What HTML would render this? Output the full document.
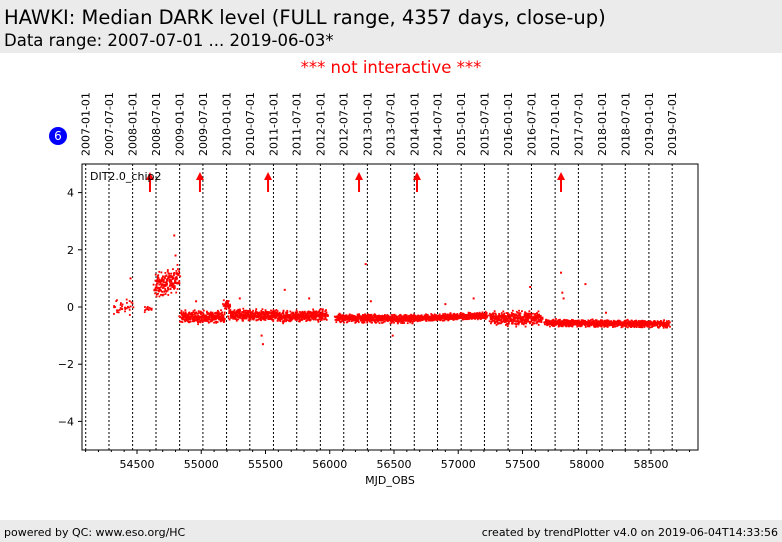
<!DOCTYPE html>
<html><head><meta charset="utf-8"><style>
body{margin:0;width:782px;height:542px;background:#fff;font-family:"DejaVu Sans","Liberation Sans",sans-serif;position:relative;overflow:hidden}
.hdr{position:absolute;left:0;top:0;width:782px;height:53px;background:#ebebeb}
.ftr{position:absolute;left:0;top:520px;width:782px;height:22px;background:#ebebeb;font-size:11px}
</style></head><body>
<div class="hdr">
<div style="position:absolute;left:4px;top:6px;font-size:19.5px">HAWKI: Median DARK level (FULL range, 4357 days, close-up)</div>
<div style="position:absolute;left:4px;top:31px;font-size:16.5px">Data range: 2007-07-01 ... 2019-06-03*</div>
</div>
<div style="position:absolute;left:0;width:782px;top:58px;text-align:center;color:#f00;font-size:16.5px">*** not interactive ***</div>
<svg id="chart" width="782" height="542" style="position:absolute;left:0;top:0" font-family="DejaVu Sans, Liberation Sans, sans-serif"></svg>
<div class="ftr">
<span style="position:absolute;left:4px;top:6px">powered by QC: www.eso.org/HC</span>
<span style="position:absolute;right:4px;top:6px">created by trendPlotter v4.0 on 2019-06-04T14:33:56</span>
</div>
<script>
const dateLabels=["2007-01-01","2007-07-01","2008-01-01","2008-07-01","2009-01-01","2009-07-01","2010-01-01","2010-07-01","2011-01-01","2011-07-01","2012-01-01","2012-07-01","2013-01-01","2013-07-01","2014-01-01","2014-07-01","2015-01-01","2015-07-01","2016-01-01","2016-07-01","2017-01-01","2017-07-01","2018-01-01","2018-07-01","2019-01-01","2019-07-01"];
const dateMjd=[54101,54282,54466,54648,54832,55013,55197,55378,55562,55743,55927,56109,56293,56474,56658,56839,57023,57204,57388,57570,57754,57935,58119,58300,58484,58665];
const xTicks=[54500,55000,55500,56000,56500,57000,57500,58000,58500];
const yTicks=[-4,-2,0,2,4];
const eventMjd=[54601,54990,55520,56228,56679,57800];
// segments: start, end, median level at start, median at end, spread
const segStart=[54320,54560,54640,54840,55180,55220,55600,56050,56650,57250,57680];
const segEnd=[54470,54620,54830,55180,55220,55600,55980,56650,57220,57650,58640];
const segLevelA=[0.0,-0.05,0.7,-0.35,0.05,-0.28,-0.35,-0.38,-0.4,-0.4,-0.55];
const segLevelB=[0.0,-0.05,1.0,-0.35,0.05,-0.3,-0.28,-0.42,-0.3,-0.4,-0.6];
const segSpread=[0.3,0.12,0.45,0.22,0.2,0.2,0.2,0.15,0.12,0.25,0.12];
const outX=[54790,54800,56280,57800,57810,57820,55480,55470,56490,57990,54450,55650,55840,56320,57120,57560,58150,54960,55300,56900];
const outY=[2.5,1.8,1.5,1.2,0.5,0.3,-1.3,-1.0,-1.0,0.8,1.0,0.6,0.3,0.2,0.3,0.7,-0.2,0.2,0.3,0.1];

const L=82,R=698,T=164,B=450;
const X0=54072,X1=58866;
const xs=v=>L+(v-X0)/(X1-X0)*(R-L);
const ys=v=>B-(v+5)/10*(B-T);
const svg=document.getElementById('chart');
const NS='http://www.w3.org/2000/svg';
function mk(t,a,p){const e=document.createElementNS(NS,t);for(const k in a)e.setAttribute(k,a[k]);(p||svg).appendChild(e);return e;}
const jit=[0.1,-0.7,0.45,-0.2,0.85,-0.95,0.3,-0.4,0.6,0.0,-0.55,0.2,-0.85,0.7,-0.1,0.95,-0.3,0.5,-0.65,0.15,-0.05,0.38,-0.27];
const jx=[0.3,-1.1,0.8,-0.4,1.3,-0.9,0.1,0.6,-1.4,1.0,-0.2];

let g=mk('g',{});


dateMjd.forEach((m,i)=>{
  const x=xs(m);
  const ln=mk('line',{x1:x,x2:x,y1:T,y2:B,stroke:'#000','stroke-width':1,'stroke-dasharray':'2,2'},g);
  
  
  const tx=mk('text',{x:0,y:0,'font-size':11,transform:`translate(${x+4},156) rotate(-90)`});
  tx.textContent=dateLabels[i];
  
  
});

const pts=mk('g',{fill:'#f00'});


segStart.forEach((s,i)=>{
  const e=segEnd[i];let k=0;
  const step=i<2?9:3;
  for(let m=s;m<=e;m+=step){
    const n=i<2?2:3;
    for(let r=0;r<n;r++){
      const f=(m-s)/Math.max(1,e-s);
      const lv=segLevelA[i]+(segLevelB[i]-segLevelA[i])*f;
      const idx=(k*7+r*11+i*5)%jit.length;
      const idx2=(k*5+r*3+(k>>2))%jit.length;
      const v=lv+segSpread[i]*0.6*(jit[idx]+jit[idx2]);
      mk('rect',{x:xs(m)+jx[(k+r*4)%jx.length]-0.9,y:ys(v)-0.9,width:1.8,height:1.8},pts);
    }
    k++;
  }
});
outX.forEach((m,i)=>{mk('rect',{x:xs(m)-1,y:ys(outY[i])-1,width:2,height:2},pts);});

eventMjd.forEach(m=>{
  const x=xs(m);
  const a=mk('g',{});
  
  
  mk('line',{x1:x,x2:x,y1:192,y2:179,stroke:'#f00','stroke-width':2},a);
  mk('polygon',{points:`${x-4},180 ${x+4},180 ${x},172`,fill:'#f00'},a);
});

const fr=mk('rect',{x:L,y:T,width:R-L,height:B-T,fill:'none',stroke:'#000','stroke-width':1});



yTicks.forEach(v=>{
  const y=ys(v);
  mk('line',{x1:L-4,x2:L,y1:y,y2:y,stroke:'#000'});
  const t=mk('text',{x:L-8,y:y+4,'font-size':11,'text-anchor':'end'});
  t.textContent=v<0?'\u2212'+(-v):v;
  
  
});
xTicks.forEach(v=>{
  const x=xs(v);
  mk('line',{x1:x,x2:x,y1:B,y2:B+4,stroke:'#000'});
  const t=mk('text',{x:x,y:B+18,'font-size':11,'text-anchor':'middle'});
  t.textContent=v;
  
  
});
for(let v=54100;v<=58800;v+=100){if(v%500){const x=xs(v);mk('line',{x1:x,x2:x,y1:B,y2:B+2,stroke:'#000'});}}

const xt=mk('text',{x:(L+R)/2,y:484,'font-size':11,'text-anchor':'middle'});
xt.textContent='MJD_OBS';


const lb=mk('text',{x:90,y:180,'font-size':11});
lb.textContent='DIT2.0_chip2';


const bd=mk('g',{});


mk('circle',{cx:58,cy:136,r:9,fill:'#00f'},bd);
const bt=mk('text',{x:58,y:140,'font-size':12,fill:'#fff','text-anchor':'middle'},bd);
bt.textContent='6';
</script>
</body></html>
